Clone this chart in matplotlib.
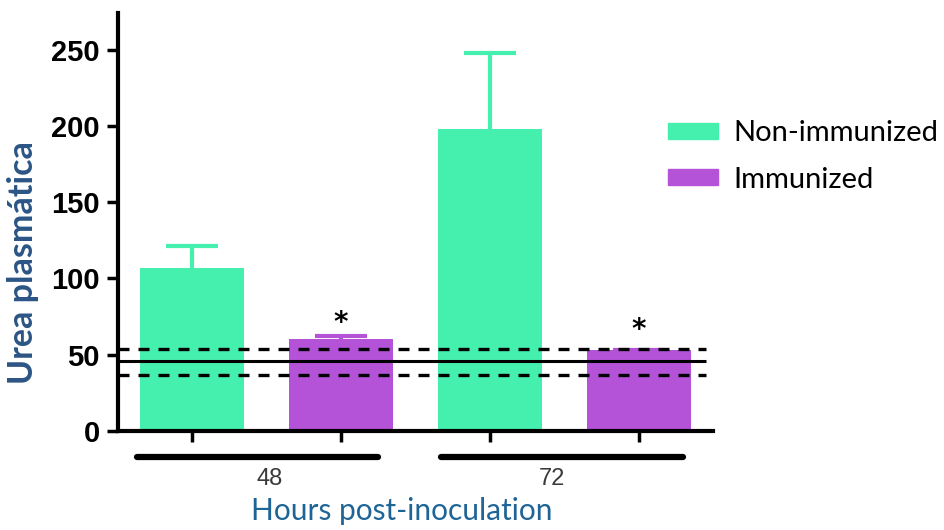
import matplotlib
matplotlib.use("Agg")
import matplotlib.pyplot as plt
from matplotlib.patches import Patch
from matplotlib import transforms

# datos: urea plasmática por grupo
horas = ["48", "72"]
grupos = ["Non-immunized", "Immunized"]
no_inmun = [107, 198]
no_inmun_err = [14, 50]
inmun = [60, 53]
inmun_err = [2, 0]
# banda de referencia (media y límites)
ref_media = 46
ref_bajo = 37
ref_alto = 54

verde = "#45EFAE"
morado = "#B453D8"

fig = plt.figure(figsize=(9.45, 5.3), dpi=100)
ax = fig.add_axes([0.1249, 0.1868, 0.6296, 0.7887])

pos_no = [0, 2]
pos_in = [1, 3]
ancho = 0.70

ax.bar(pos_no, no_inmun, width=ancho, color=verde, zorder=2)
ax.bar(pos_in, inmun, width=ancho, color=morado, zorder=2)
for pos, val, err, col in [(pos_no, no_inmun, no_inmun_err, verde),
                           (pos_in, inmun, inmun_err, morado)]:
    eb = ax.errorbar(pos, val, yerr=[[0] * len(err), err], fmt="none",
                     ecolor=col, elinewidth=3, capsize=19, capthick=3, zorder=1)
    # solo el tope superior
    eb[1][0].set_visible(False)

# asteriscos
for x, v in zip(pos_in, [71, 66]):
    ax.text(x, v, "*", ha="center", va="center", fontsize=20, fontweight="bold")

# líneas de referencia
ax.hlines(ref_media, -0.5, 3.45, colors="black", linewidth=2.2, zorder=3)
ax.hlines([ref_bajo, ref_alto], -0.5, 3.45, colors="black", linewidth=2.4,
          linestyles=(0, (3.3, 2.7)), zorder=3)

ax.set_xlim(-0.5, 3.5)
ax.set_ylim(0, 274)
ax.set_yticks([0, 50, 100, 150, 200, 250])
ax.set_xticks(pos_no + pos_in)
ax.set_xticklabels([])

for s in ["top", "right"]:
    ax.spines[s].set_visible(False)
ax.spines["left"].set_linewidth(3)
ax.spines["bottom"].set_linewidth(3)
ax.tick_params(axis="y", length=8, width=2.5, pad=5, labelsize=21)
ax.tick_params(axis="x", length=8, width=2.5)
for lab in ax.get_yticklabels():
    lab.set_fontweight("bold")
    lab.set_family("Liberation Sans")

# barras de grupo bajo el eje
tr = transforms.blended_transform_factory(ax.transData, ax.transAxes)
for h, (x0, x1), xl in zip(horas, [(-0.37, 1.245), (1.67, 3.30)], [0.52, 2.42]):
    ax.plot([x0, x1], [-0.062, -0.062], color="black", linewidth=4.5,
            solid_capstyle="round", transform=tr, clip_on=False)
    ax.text(xl, -0.115, h, transform=tr, ha="center", va="center",
            fontsize=17, color="#3a3a3a", family="Liberation Sans")

fig.text(0.425, 0.036, "Hours post-inoculation", ha="center", va="center",
         fontsize=21.5, color="#1F6496", family="Lato")
fig.text(0.024, 0.505, "Urea plasmática", ha="center", va="center",
         rotation=90, fontsize=24.5, fontweight="bold", color="#2B5585",
         family="Lato")

handles = [Patch(color=verde), Patch(color=morado)]
fig.legend(handles, grupos, loc="upper left", bbox_to_anchor=(0.7069, 0.773),
           frameon=False, borderpad=0, borderaxespad=0, handlelength=1.7,
           handleheight=0.45, handletextpad=0.55, labelspacing=0.7,
           prop={"family": "Lato", "size": 21})

fig.savefig("out.png", dpi=100)
